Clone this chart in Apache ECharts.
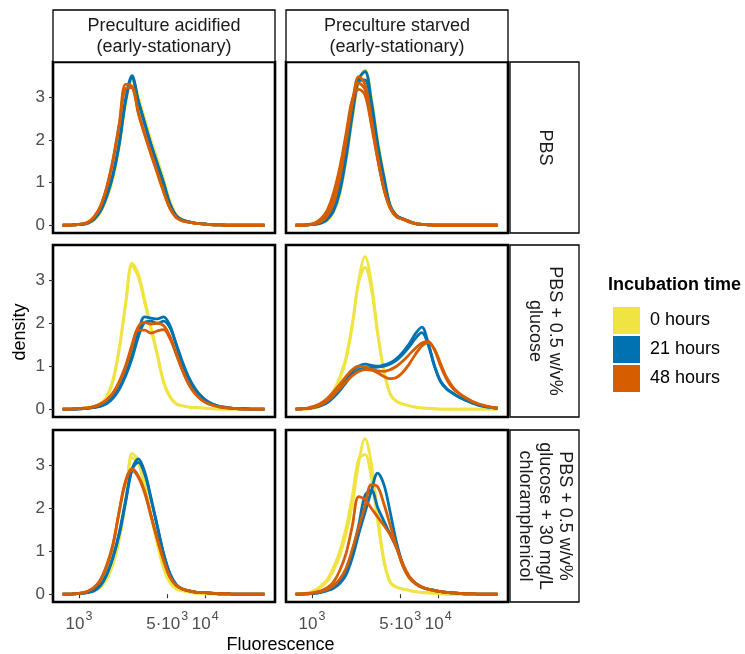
<!DOCTYPE html>
<html><head><meta charset="utf-8">
<script src="https://cdn.jsdelivr.net/npm/echarts@6/dist/echarts.min.js"></script>
<style>html,body{margin:0;padding:0;background:#fff}#c{width:745px;height:654px}</style>
</head><body><div id="c"></div>
<script>
// ---------- DATA ----------
// x grid: log10(Fluorescence)
const logFluorescence = [2.87,2.92,2.97,3.02,3.07,3.12,3.17,3.22,3.27,3.32,3.37,3.42,3.47,3.52,3.57,3.62,3.67,3.72,3.77,3.82,3.87,3.92,3.97,4.02,4.07,4.12,4.17,4.22,4.27,4.32,4.37,4.42,4.47];
const xTickValues = [1000, 5000, 10000];
const xTickLabels = [['10','3'], ['5·10','3'], ['10','4']];
const yTickValues = [0, 1, 2, 3];
const groups = ['0 hours', '21 hours', '48 hours'];
const colLabels = ['Preculture acidified\n(early-stationary)', 'Preculture starved\n(early-stationary)'];
const rowLabels = ['PBS', 'PBS + 0.5 w/v%\nglucose', 'PBS + 0.5 w/v%\nglucose + 30 mg/L\nchloramphenicol'];

// Row 1 (PBS), col 1 (acidified)
const p1Yellow = [
 [0,0,0.01,0.02,0.04,0.12,0.30,0.62,1.10,1.85,2.85, 3.45,3.00,2.50,2.00,1.55,1.08,0.58,0.25,0.12,0.07,0.05, 0.03,0.02,0.01,0.01,0,0,0,0,0,0,0],
 [0,0,0.01,0.02,0.05,0.13,0.32,0.66,1.15,1.90,2.88, 3.40,2.95,2.45,1.95,1.50,1.02,0.52,0.23,0.11,0.07,0.05, 0.03,0.02,0.01,0.01,0,0,0,0,0,0,0]];
const p1Blue = [
 [0,0,0.01,0.02,0.05,0.15,0.35,0.70,1.20,1.95,2.95, 3.50,2.92,2.40,1.90,1.45,1.00,0.50,0.22,0.12,0.08,0.05, 0.04,0.02,0.01,0.01,0,0,0,0,0,0,0],
 [0,0,0.01,0.02,0.05,0.14,0.33,0.68,1.18,1.92,2.92, 3.45,2.90,2.38,1.88,1.42,0.98,0.50,0.22,0.12,0.08,0.05, 0.04,0.02,0.01,0.01,0,0,0,0,0,0,0]];
const p1Orange = [
 [0,0,0.01,0.03,0.07,0.20,0.45,0.90,1.55,2.40,3.30, 3.25,2.65,2.15,1.70,1.25,0.80,0.40,0.18,0.10,0.07,0.05, 0.03,0.02,0.01,0.01,0,0,0,0,0,0,0],
 [0,0,0.01,0.03,0.07,0.19,0.43,0.88,1.52,2.35,3.20, 3.22,2.62,2.12,1.66,1.22,0.78,0.40,0.18,0.10,0.07,0.05, 0.03,0.02,0.01,0.01,0,0,0,0,0,0,0]];

// Row 1 (PBS), col 2 (starved)
const p2Yellow = [
 [0,0,0.01,0.02,0.05,0.12,0.30,0.75,1.55,2.55,3.40, 3.63,2.95,1.95,1.15,0.45,0.22,0.15,0.09,0.04,0.02,0.01, 0,0,0,0,0,0,0,0,0,0,0],
 [0,0,0.01,0.02,0.05,0.12,0.30,0.72,1.50,2.50,3.35, 3.58,2.98,2.00,1.18,0.48,0.23,0.15,0.09,0.04,0.02,0.01, 0,0,0,0,0,0,0,0,0,0,0]];
const p2Blue = [
 [0,0,0.01,0.02,0.05,0.13,0.33,0.78,1.58,2.58,3.42, 3.60,2.92,1.92,1.12,0.44,0.22,0.15,0.09,0.04,0.02,0.01, 0,0,0,0,0,0,0,0,0,0,0],
 [0,0,0.01,0.03,0.07,0.17,0.40,0.88,1.70,2.70,3.38, 3.40,2.80,1.85,1.08,0.45,0.22,0.15,0.09,0.04,0.02,0.01, 0,0,0,0,0,0,0,0,0,0,0]];
const p2Orange = [
 [0,0,0.01,0.03,0.08,0.22,0.50,1.10,1.95,2.85,3.48, 3.30,2.50,1.60,0.85,0.40,0.20,0.14,0.08,0.04,0.02,0.01, 0,0,0,0,0,0,0,0,0,0,0],
 [0,0,0.02,0.05,0.15,0.35,0.75,1.35,2.15,2.95,3.18, 3.05,2.35,1.55,0.85,0.40,0.20,0.14,0.08,0.04,0.02,0.01, 0,0,0,0,0,0,0,0,0,0,0],
 [0,0,0.01,0.04,0.11,0.28,0.62,1.22,2.05,2.90,3.33, 3.18,2.42,1.58,0.85,0.40,0.20,0.14,0.08,0.04,0.02,0.01, 0,0,0,0,0,0,0,0,0,0,0]];

// Row 2 (glucose), col 1
const p3Yellow = [
 [0,0,0.01,0.02,0.04,0.06,0.12,0.28,0.65,1.40,2.45, 3.40,3.15,2.55,1.92,1.30,0.65,0.30,0.13,0.08,0.05,0.04, 0.03,0.02,0.01,0,0,0,0,0,0,0,0],
 [0,0,0.01,0.02,0.04,0.07,0.13,0.30,0.70,1.45,2.48, 3.33,3.08,2.48,1.86,1.25,0.62,0.28,0.12,0.08,0.05,0.04, 0.03,0.02,0.01,0,0,0,0,0,0,0,0]];
const p3Blue = [
 [0,0,0,0.01,0.02,0.04,0.07,0.14,0.28,0.50,0.82, 1.25,1.78,2.15,2.12,2.10,2.15,1.95,1.50,1.05,0.70,0.45, 0.28,0.17,0.10,0.06,0.04,0.02,0.01,0.01,0,0,0],
 [0,0,0,0.01,0.02,0.04,0.07,0.13,0.26,0.47,0.78, 1.18,1.68,2.02,2.05,2.00,2.05,1.90,1.52,1.10,0.74,0.48, 0.30,0.18,0.11,0.06,0.04,0.02,0.01,0.01,0,0,0]];
const p3Orange = [
 [0,0,0.01,0.02,0.03,0.06,0.12,0.22,0.38,0.65,1.02, 1.50,1.92,2.02,1.98,2.00,1.95,1.70,1.30,0.90,0.58,0.36, 0.22,0.13,0.08,0.05,0.03,0.02,0.01,0,0,0,0],
 [0,0,0.01,0.02,0.03,0.06,0.12,0.22,0.37,0.63,0.98, 1.45,1.84,1.84,1.77,1.82,1.85,1.65,1.28,0.90,0.58,0.36, 0.22,0.13,0.08,0.05,0.03,0.02,0.01,0,0,0,0]];

// Row 2 (glucose), col 2
const p4Yellow = [
 [0,0,0.01,0.03,0.08,0.20,0.40,0.70,1.15,1.95,3.00, 3.55,2.95,1.80,0.90,0.35,0.18,0.12,0.08,0.05,0.03,0.02, 0.01,0,0,0,0,0,0,0,0,0,0],
 [0,0,0.01,0.03,0.09,0.22,0.43,0.75,1.22,2.00,2.95, 3.30,2.80,1.75,0.88,0.35,0.18,0.12,0.08,0.05,0.03,0.02, 0.01,0,0,0,0,0,0,0,0,0,0]];
const p4Blue = [
 [0,0.01,0.02,0.05,0.09,0.17,0.30,0.48,0.68,0.88,1.00, 1.05,1.02,1.00,1.03,1.08,1.18,1.33,1.52,1.76,1.91,1.55, 1.02,0.65,0.47,0.37,0.28,0.21,0.15,0.10,0.06,0.04,0.02],
 [0,0.01,0.02,0.04,0.08,0.15,0.27,0.43,0.62,0.80,0.92, 0.96,0.97,0.98,1.00,1.05,1.14,1.28,1.45,1.65,1.78,1.50, 1.00,0.63,0.46,0.36,0.27,0.20,0.14,0.09,0.06,0.04,0.02]];
const p4Orange = [
 [0,0.01,0.03,0.07,0.14,0.25,0.40,0.58,0.76,0.92,1.00, 0.98,0.93,0.89,0.88,0.92,1.00,1.12,1.27,1.42,1.54,1.58, 1.38,1.00,0.68,0.47,0.36,0.26,0.18,0.12,0.08,0.05,0.03],
 [0,0.01,0.02,0.05,0.10,0.19,0.32,0.48,0.64,0.78,0.88, 0.92,0.91,0.85,0.76,0.71,0.74,0.86,1.05,1.28,1.47,1.55, 1.40,1.05,0.72,0.50,0.36,0.26,0.18,0.12,0.08,0.05,0.03]];

// Row 3 (glucose + chloramphenicol), col 1
const p5Yellow = [
 [0,0,0.01,0.02,0.04,0.08,0.16,0.35,0.70,1.28,2.15, 3.28,3.12,2.55,1.85,1.20,0.62,0.28,0.13,0.08,0.05,0.03, 0.02,0.01,0.01,0,0,0,0,0,0,0,0],
 [0,0,0.01,0.02,0.04,0.08,0.17,0.37,0.74,1.33,2.20, 3.18,3.05,2.50,1.82,1.18,0.60,0.27,0.12,0.08,0.05,0.03, 0.02,0.01,0.01,0,0,0,0,0,0,0,0]];
const p5Blue = [
 [0,0,0.01,0.02,0.04,0.08,0.20,0.45,0.85,1.40,2.15, 2.90,3.15,2.85,2.25,1.60,0.95,0.48,0.22,0.12,0.08,0.05, 0.04,0.03,0.02,0.01,0.01,0,0,0,0,0,0],
 [0,0,0.01,0.02,0.04,0.09,0.21,0.47,0.88,1.45,2.20, 2.90,3.07,2.80,2.22,1.58,0.94,0.48,0.22,0.12,0.08,0.05, 0.04,0.03,0.02,0.01,0.01,0,0,0,0,0,0]];
const p5Orange = [
 [0,0,0.01,0.03,0.07,0.15,0.32,0.65,1.15,1.95,2.65, 2.92,2.75,2.40,1.85,1.30,0.80,0.40,0.20,0.12,0.08,0.05, 0.04,0.03,0.02,0.01,0.01,0,0,0,0,0,0],
 [0,0,0.01,0.03,0.07,0.16,0.34,0.68,1.18,1.95,2.62, 2.88,2.72,2.36,1.82,1.28,0.79,0.40,0.20,0.12,0.08,0.05, 0.04,0.03,0.02,0.01,0.01,0,0,0,0,0,0]];

// Row 3 (glucose + chloramphenicol), col 2
const p6Yellow = [
 [0,0.01,0.03,0.08,0.17,0.30,0.55,0.90,1.40,2.10,3.05, 3.62,3.05,1.90,0.80,0.28,0.17,0.12,0.09,0.06,0.04,0.03, 0.02,0.01,0,0,0,0,0,0,0,0,0],
 [0,0.01,0.03,0.09,0.19,0.34,0.62,1.00,1.55,2.30,3.15, 3.25,2.70,1.70,0.75,0.27,0.16,0.12,0.09,0.06,0.04,0.03, 0.02,0.01,0,0,0,0,0,0,0,0,0]];
const p6Blue = [
 [0,0,0.01,0.02,0.04,0.08,0.14,0.25,0.45,0.85,1.40, 1.90,2.40,2.82,2.55,1.90,1.20,0.70,0.40,0.25,0.16,0.12, 0.09,0.06,0.04,0.03,0.02,0.01,0.01,0,0,0,0],
 [0,0,0.01,0.02,0.05,0.10,0.18,0.32,0.58,1.00,1.60, 2.30,2.42,2.02,1.70,1.39,1.08,0.68,0.40,0.25,0.16,0.12, 0.09,0.06,0.04,0.03,0.02,0.01,0.01,0,0,0,0]];
const p6Orange = [
 [0,0,0.01,0.03,0.06,0.11,0.20,0.35,0.60,1.05,1.55, 2.05,2.55,2.50,2.10,1.60,1.10,0.65,0.38,0.24,0.16,0.11, 0.08,0.06,0.04,0.03,0.02,0.01,0.01,0,0,0,0],
 [0,0.01,0.02,0.04,0.08,0.15,0.28,0.55,0.95,1.60,2.27, 2.20,2.00,1.80,1.60,1.38,1.08,0.70,0.42,0.26,0.17,0.12, 0.09,0.06,0.04,0.03,0.02,0.01,0.01,0,0,0,0]];

// ---------- LAYOUT / STYLE ----------
const FONT = '"Liberation Sans", Arial, sans-serif';
const colors = ['#F0E442', '#0072B2', '#D55E00'];
const colLeft = [53, 286], colW = 222;
const rowTop = [62, 245, 430], rowH = [171, 172, 172];
const xMin = 2.794, xMax = 4.553, yMin = -0.182, yMax = 3.822;

const panelData = [
  [p1Yellow, p1Blue, p1Orange], [p2Yellow, p2Blue, p2Orange],
  [p3Yellow, p3Blue, p3Orange], [p4Yellow, p4Blue, p4Orange],
  [p5Yellow, p5Blue, p5Orange], [p6Yellow, p6Blue, p6Orange]
];

const xTickPos = xTickValues.map(v => Math.log10(v));

const grids = [], xAxes = [], yAxes = [], series = [];
for (let r = 0; r < 3; r++) {
  for (let c = 0; c < 2; c++) {
    const i = r * 2 + c;
    grids.push({left: colLeft[c], top: rowTop[r], width: colW, height: rowH[r],
      show: true, borderColor: '#000', borderWidth: 2.6, backgroundColor: '#fff', containLabel: false});
    const bottomRow = r === 2, leftCol = c === 0;
    xAxes.push({type: 'value', gridIndex: i, min: xMin, max: xMax,
      axisLine: {show: false}, splitLine: {show: false},
      axisTick: {show: bottomRow, customValues: xTickPos, length: 4, lineStyle: {color: '#333', width: 1.1}},
      axisLabel: {show: bottomRow, customValues: xTickPos, margin: 8,
        formatter: function (v) {
          let k = 0, best = 1e9;
          xTickPos.forEach((p, j) => { if (Math.abs(p - v) < best) { best = Math.abs(p - v); k = j; } });
          return '{b|' + xTickLabels[k][0] + '}{s|' + xTickLabels[k][1] + '}';
        },
        rich: {
          b: {fontSize: 17, color: '#4d4d4d', fontFamily: FONT, lineHeight: 23, verticalAlign: 'bottom'},
          s: {fontSize: 12.5, color: '#4d4d4d', fontFamily: FONT, lineHeight: 23, verticalAlign: 'top', padding: [0, 0, 0, 1]}
        }
      }
    });
    yAxes.push({type: 'value', gridIndex: i, min: yMin, max: yMax,
      axisLine: {show: false}, splitLine: {show: false},
      axisTick: {show: leftCol, customValues: yTickValues, length: 4, lineStyle: {color: '#333', width: 1.1}},
      axisLabel: {show: leftCol, customValues: yTickValues, margin: 8, fontSize: 17, color: '#4d4d4d', fontFamily: FONT}
    });
    panelData[i].forEach((reps, g) => {
      reps.forEach(arr => {
        series.push({type: 'line', name: groups[g], xAxisIndex: i, yAxisIndex: i,
          data: logFluorescence.map((x, k) => [x, arr[k]]),
          showSymbol: false, symbol: 'none', smooth: 0.35, silent: true,
          color: colors[g],
          lineStyle: {color: colors[g], width: 2.8},
          itemStyle: {color: colors[g]}
        });
      });
    });
  }
}

const graphics = [];
// top strips
for (let c = 0; c < 2; c++) {
  graphics.push({type: 'rect', shape: {x: colLeft[c], y: 10, width: colW, height: 52},
    style: {fill: '#fff', stroke: '#000', lineWidth: 1.3}, z: 1});
  graphics.push({type: 'text', x: colLeft[c] + colW / 2, y: 36.5, z: 2,
    style: {text: colLabels[c], fontSize: 18, fontFamily: FONT, fill: '#1a1a1a',
      align: 'center', verticalAlign: 'middle', textAlign: 'center', textVerticalAlign: 'middle', lineHeight: 21}});
}
// right strips
for (let r = 0; r < 3; r++) {
  graphics.push({type: 'rect', shape: {x: 510, y: rowTop[r], width: 69, height: rowH[r]},
    style: {fill: '#fff', stroke: '#000', lineWidth: 1.3}, z: 1});
  graphics.push({type: 'text', x: 544.5, y: rowTop[r] + rowH[r] / 2, rotation: -Math.PI / 2, z: 2,
    style: {text: rowLabels[r], fontSize: 18, fontFamily: FONT, fill: '#1a1a1a',
      align: 'center', verticalAlign: 'middle', textAlign: 'center', textVerticalAlign: 'middle', lineHeight: 20}});
}
// axis titles
graphics.push({type: 'text', x: 20, y: 332, rotation: Math.PI / 2, z: 2,
  style: {text: 'density', fontSize: 18, fontFamily: FONT, fill: '#000',
    align: 'center', verticalAlign: 'middle', textAlign: 'center', textVerticalAlign: 'middle'}});
graphics.push({type: 'text', x: 280.5, y: 645, z: 2,
  style: {text: 'Fluorescence', fontSize: 18, fontFamily: FONT, fill: '#000',
    align: 'center', verticalAlign: 'middle', textAlign: 'center', textVerticalAlign: 'middle'}});
// legend title
graphics.push({type: 'text', x: 608, y: 285, z: 2,
  style: {text: 'Incubation time', fontSize: 18, fontWeight: 'bold', fontFamily: FONT, fill: '#000',
    align: 'left', verticalAlign: 'middle', textAlign: 'left', textVerticalAlign: 'middle'}});

const chart = echarts.init(document.getElementById('c'), null, {renderer: 'canvas', width: 745, height: 654});
chart.setOption({
  animation: false,
  backgroundColor: '#fff',
  textStyle: {fontFamily: FONT},
  grid: grids, xAxis: xAxes, yAxis: yAxes, series: series,
  legend: {orient: 'vertical', left: 608, top: 302, itemWidth: 27, itemHeight: 27, itemGap: 2,
    icon: 'rect', selectedMode: false, data: groups,
    textStyle: {fontSize: 18, color: '#000', fontFamily: FONT, padding: [0, 0, 0, 5]}},
  graphic: graphics
});
</script>
</body></html>
